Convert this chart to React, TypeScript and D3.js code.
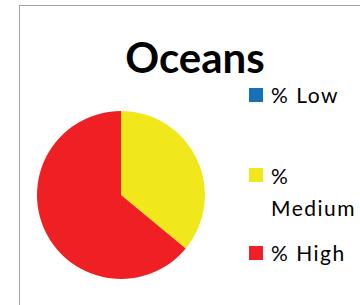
import React from 'react';
import * as d3 from 'd3';

const categories = ['% Low', '% Medium', '% High'];
const values = [0, 36, 64];
const colors = ['#1770b8', '#f1e81c', '#ee2024'];
const title = 'Oceans';

const W = 360;
const H = 305;

export default function App() {
  const cx = 121;
  const cy = 195;
  const r = 84;

  const pie = d3.pie<number>().sort(null).value(d => d);
  const arcs = pie(values);
  const arc = d3.arc<d3.PieArcDatum<number>>().innerRadius(0).outerRadius(r);

  // legend: square centre y and text baselines per entry
  const legendX = 249;
  const squareY = [88, 168, 246];
  const baselines = [[103], [184, 216], [261]];

  return (
    <div style={{ position: 'absolute', left: 0, top: 0 }}>
      <svg width={W} height={H} style={{ display: 'block', fontFamily: 'Lato, sans-serif' }}>
        <rect x={0} y={0} width={W} height={H} fill="#fff" />
        <rect x={19.5} y={5.5} width={W + 10} height={H + 10} fill="none" stroke="#a6a6a6" />
        <text x={195} y={73} textAnchor="middle" fontSize={42} fontWeight="bold" fill="#000">
          {title}
        </text>
        <g transform={`translate(${cx},${cy})`}>
          {arcs.map((a, i) =>
            a.value > 0 ? <path key={i} d={arc(a) || ''} fill={colors[i]} /> : null
          )}
        </g>
        {categories.map((c, i) => {
          const parts = c === '% Medium' ? ['%', 'Medium'] : [c];
          return (
            <g key={c}>
              <rect x={legendX} y={squareY[i]} width={14} height={14} fill={colors[i]} />
              {parts.map((p, j) => (
                <text key={j} x={271} y={baselines[i][j]} fontSize={21} fill="#000" letterSpacing={1.5}>
                  {p}
                </text>
              ))}
            </g>
          );
        })}
      </svg>
    </div>
  );
}
